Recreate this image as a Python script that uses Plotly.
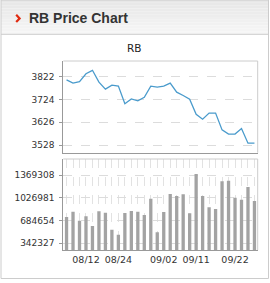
import plotly.graph_objects as go

# ---------------- data ----------------
dates = ["08/07", "08/10", "08/11", "08/12", "08/14", "08/17", "08/19", "08/21",
         "08/24", "08/25", "08/26", "08/27", "08/28", "08/31", "09/01", "09/02",
         "09/03", "09/07", "09/09", "09/10", "09/11", "09/14", "09/15", "09/17",
         "09/18", "09/21", "09/22", "09/23", "09/24", "09/25"]
prices = [3808, 3794, 3800, 3834, 3849, 3798, 3768, 3785, 3781, 3705,
          3726, 3718, 3733, 3781, 3777, 3781, 3794, 3755, 3741, 3725,
          3660, 3639, 3665, 3665, 3593, 3575, 3575, 3599, 3536, 3536]
volumes = [737700, 817400, 682100, 748300, 602400, 823400, 802400, 546800,
           471600, 797900, 828000, 817400, 767800, 1012900, 507700, 813000,
           1083500, 1053500, 1079000, 793400, 1384300, 1053500, 883600, 858000,
           1274500, 1283500, 1028000, 997900, 1188800, 978300]
x_tick_labels = ["08/12", "08/24", "09/02", "09/11", "09/22"]
price_ticks = [3528, 3626, 3724, 3822]
volume_ticks = [342327, 684654, 1026981, 1369308]

W, H = 270, 283


def px(x):
    return x / W


def py(y):
    return 1 - y / H


fig = go.Figure()
fig.add_trace(go.Scatter(x=dates, y=prices, mode="lines",
                         line=dict(color="#4a9bcc", width=1.3),
                         xaxis="x", yaxis="y", hoverinfo="skip"))
fig.add_trace(go.Bar(x=dates, y=volumes, marker=dict(color="#a3a3a3", line=dict(width=0)),
                     xaxis="x2", yaxis="y2", hoverinfo="skip"))

tick_font = dict(family="DejaVu Sans", size=9, color="#333333")
xdom = [px(63.3), px(257.7)]
pdom = [py(152.7), py(61)]
vdom = [py(250), py(159)]

fig.update_layout(
    width=W, height=H, margin=dict(l=0, r=0, t=0, b=0),
    paper_bgcolor="white", plot_bgcolor="white", showlegend=False,
    bargap=0.49,
    xaxis=dict(domain=xdom, anchor="y", type="category", categoryorder="array",
               categoryarray=dates, range=[-0.5, len(dates) - 0.5],
               showticklabels=False, showgrid=False, zeroline=False,
               showline=True, linecolor="#999999", linewidth=1, ticks=""),
    yaxis=dict(domain=pdom, anchor="x", range=[3495, 3889],
               tickvals=price_ticks, ticktext=[str(v) for v in price_ticks],
               tickfont=tick_font, showgrid=True, gridcolor="#dcdcdc", griddash="dash",
               gridwidth=1, zeroline=False, showline=True, linecolor="#999999",
               linewidth=1, ticks="outside", ticklen=3, tickcolor="#999999",
               ticklabelstandoff=3),
    xaxis2=dict(domain=xdom, anchor="y2", type="category", categoryorder="array",
                categoryarray=dates, range=[-0.5, len(dates) - 0.5],
                tickvals=dates,
                ticktext=[d if d in x_tick_labels else "" for d in dates],
                tickfont=dict(family="DejaVu Sans", size=9.5, color="#333333"),
                tickangle=0,
                showgrid=True, gridcolor="#e2e2e2", griddash="dash", gridwidth=1,
                zeroline=False, showline=True, linecolor="#999999", linewidth=1,
                ticks="", ticklabelstandoff=1),
    yaxis2=dict(domain=vdom, anchor="x2", range=[241600, 1609870],
                tickvals=volume_ticks, ticktext=[str(v) for v in volume_ticks],
                tickfont=tick_font, showgrid=True, gridcolor="#dcdcdc", griddash="dash",
                gridwidth=1, zeroline=False, showline=True, linecolor="#999999",
                linewidth=1, ticks="outside", ticklen=3, tickcolor="#999999",
                ticklabelstandoff=3),
)

shapes = []
# header gradient stripes
n = 12
for k in range(n):
    t = k / (n - 1)
    c = int(231 + (246 - 231) * t)
    shapes.append(dict(type="rect", xref="paper", yref="paper", layer="below",
                       x0=px(1), x1=px(268.5), y0=py(34 * (k + 1) / n), y1=py(34 * k / n),
                       fillcolor=f"rgb({c},{c},{c})", line=dict(width=0)))
# panel border
shapes.append(dict(type="rect", xref="paper", yref="paper", layer="above",
                   x0=px(1), x1=px(268.5), y0=py(278.5), y1=py(0),
                   line=dict(color="#cccccc", width=1), fillcolor="rgba(0,0,0,0)"))
shapes.append(dict(type="line", xref="paper", yref="paper",
                   x0=px(1), x1=px(268.5), y0=py(34.3), y1=py(34.3),
                   line=dict(color="#cccccc", width=1)))
# chevron
shapes.append(dict(type="path", xref="paper", yref="paper",
                   path=f"M {px(16.2)},{py(14.8)} L {px(19.6)},{py(18.4)} L {px(16.2)},{py(22)}",
                   line=dict(color="#e02a10", width=2.2)))
# top/right light frame lines of both plots
for ax in ("", "2"):
    shapes.append(dict(type="line", xref=f"x{ax} domain", yref=f"y{ax} domain",
                       x0=0, x1=1, y0=1, y1=1, line=dict(color="#cccccc", width=1)))
    shapes.append(dict(type="line", xref=f"x{ax} domain", yref=f"y{ax} domain",
                       x0=1, x1=1, y0=0, y1=1, line=dict(color="#cccccc", width=1)))
fig.update_layout(shapes=shapes)

fig.add_annotation(x=px(26.5), y=py(17.5), xref="paper", yref="paper",
                   xanchor="left", yanchor="middle", showarrow=False,
                   text="<b>RB Price Chart</b>",
                   font=dict(family="Liberation Sans", size=14, color="#333333"))
fig.add_annotation(x=px(134.5), y=py(48), xref="paper", yref="paper",
                   xanchor="center", yanchor="middle", showarrow=False,
                   text="RB", font=dict(family="DejaVu Sans", size=10.5, color="#222222"))

fig.write_html("out.html")
